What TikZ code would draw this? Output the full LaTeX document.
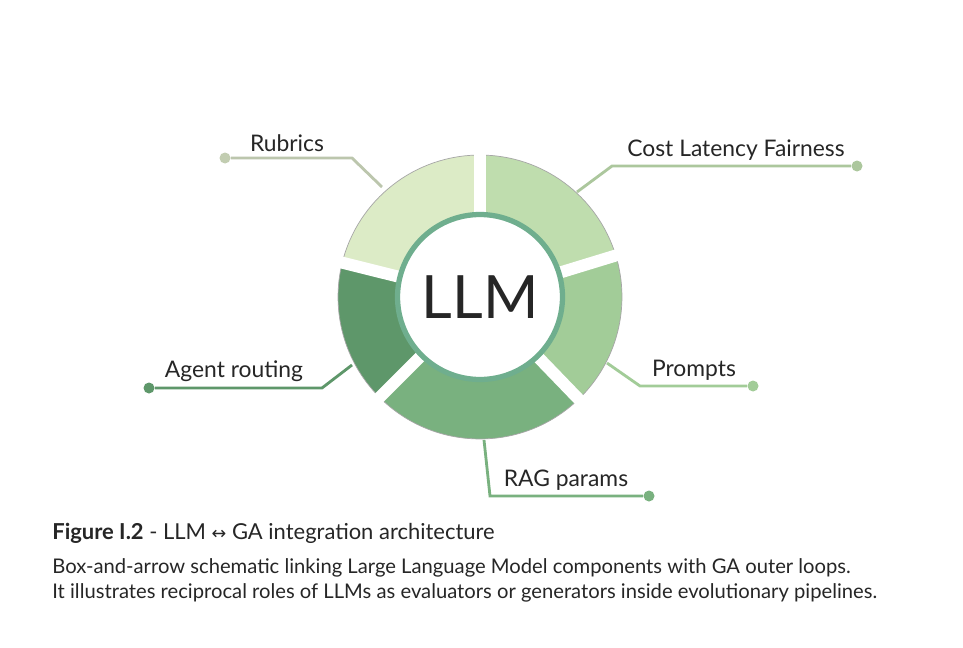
\documentclass[tikz,border=0pt]{standalone}
\usepackage{fontspec}
\setmainfont{Lato}
\newfontfamily\symfont{DejaVu Sans}
\usetikzlibrary{calc, positioning}

\definecolor{segA}{HTML}{DCEBC6}
\definecolor{segB}{HTML}{BFDDAE}
\definecolor{segC}{HTML}{A2CC98}
\definecolor{segD}{HTML}{79B17F}
\definecolor{segE}{HTML}{5E976A}
\definecolor{ringC}{HTML}{6FAE8E}
\definecolor{txt}{HTML}{262626}

\begin{document}
\begin{tikzpicture}[
    x=0.02cm, y=0.02cm,
    font=\fontsize{13}{15}\selectfont,
    label/.style={text=txt, anchor=south, inner sep=2pt},
    dot/.style={circle, inner sep=0pt, minimum size=0.22cm},
    leader/.style={line width=1.6pt},
    captext/.style={text=txt, anchor=base west, inner sep=0pt, font=\fontsize{11.5}{14}\selectfont}
]
    \useasboundingbox (0,0) rectangle (963,647);
    \fill[white] (0,0) rectangle (963,647);

    \coordinate (c) at (480,350);
    \def\ro{2.84cm}
    \def\ri{1.6cm}

    % Segments
    \foreach \a/\b/\col in {90/166/segA, 17/90/segB, -46/17/segC, -135/-46/segD, 166/225/segE}{
        \fill[\col, draw=black!35, line width=0.4pt]
            ($(c)+(\a:\ro)$) arc[start angle=\a, end angle=\b, radius=\ro]
            -- ($(c)+(\b:\ri)$) arc[start angle=\b, end angle=\a, radius=\ri] -- cycle;
    }
    % Gaps
    \foreach \g in {90, 166, 225, 314, 17}
        \draw[white, line width=0.24cm] (c) -- ++(\g:3.1cm);

    % Centre
    \node[circle, draw=ringC, line width=3pt, fill=white, minimum size=3.3cm,
          text=txt, font=\fontsize{34}{40}\selectfont] (llm) at (c) {LLM};

    % Leaders
    \node[dot, fill=segA!85!black!90] (rubD) at (225,489) {};
    \coordinate (rubK) at (352,489);
    \coordinate (rubE) at (382,460);
    \draw[leader, segA!80!black!85] (rubD) -- (rubK) -- (rubE);
    \node[label] (rub) at (287,491) {Rubrics};

    \node[dot, fill=segB!90!black] (costD) at (857,481) {};
    \coordinate (costK) at (612,481);
    \coordinate (costE) at (577,455);
    \draw[leader, segB!90!black] (costD) -- (costK) -- (costE);
    \node[label] (cost) at (736,483) {Cost Latency Fairness};

    \node[dot, fill=segC] (prD) at (753,261) {};
    \coordinate (prK) at (640,261);
    \coordinate (prE) at (607,284);
    \draw[leader, segC] (prD) -- (prK) -- (prE);
    \node[label] (pr) at (694,263) {Prompts};

    \node[dot, fill=segD] (ragD) at (649,151) {};
    \coordinate (ragK) at (490,151);
    \coordinate (ragE) at (484,207);
    \draw[leader, segD] (ragD) -- (ragK) -- (ragE);
    \node[label] (rag) at (566,153) {RAG params};

    \node[dot, fill=segE] (agD) at (149,259) {};
    \coordinate (agK) at (322,259);
    \coordinate (agE) at (352,282);
    \draw[leader, segE] (agD) -- (agK) -- (agE);
    \node[label] (ag) at (234,261) {Agent routing};

    % Caption
    \node[captext, font=\fontsize{12.5}{15}\selectfont] (title) at (52,108)
        {\textbf{Figure I.2} - LLM {\symfont\fontsize{10}{12}\selectfont ↔} GA integration architecture};
    \node[captext] (cap1) at (52,74)
        {Box-and-arrow schematic linking Large Language Model components with GA outer loops.};
    \node[captext] (cap2) at (52,49)
        {It illustrates reciprocal roles of LLMs as evaluators or generators inside evolutionary pipelines.};
\end{tikzpicture}
\end{document}
